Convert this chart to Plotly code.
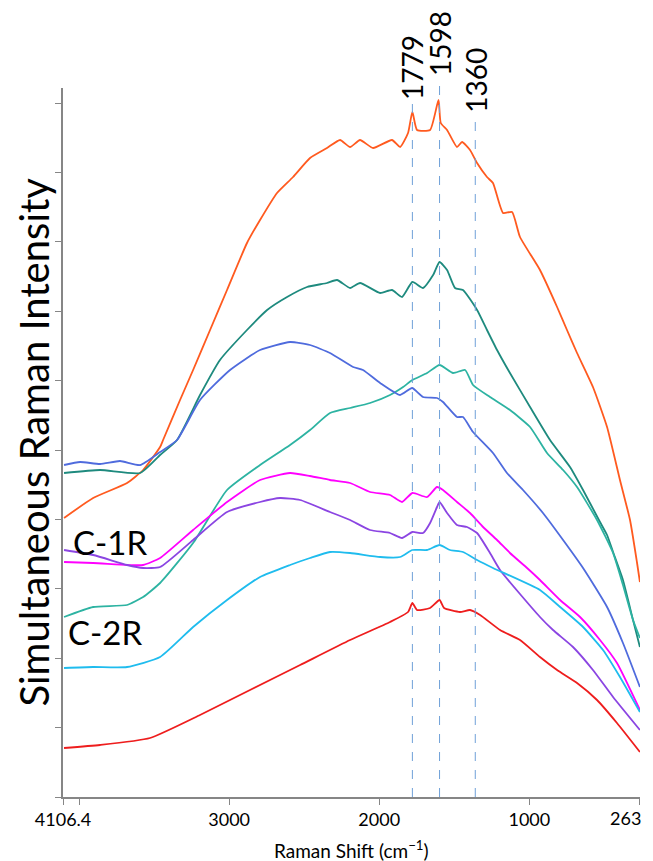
import plotly.graph_objects as go

# Raman shift (cm^-1) and intensity (a.u.) for each spectrum
orange_wn = [4100, 3906, 3680, 3573, 3460, 3440, 3327, 3240, 3127, 3014, 2881, 2794, 2681, 2574, 2461, 2348, 2261, 2194, 2128, 2041, 1915, 1861, 1808, 1779, 1748, 1661, 1605, 1590, 1548, 1482, 1448, 1395, 1348, 1282, 1242, 1175, 1115, 1062, 929, 815, 749, 682, 576, 482, 396, 329, 283, 263]
orange_int = [279, 299, 314, 327, 350, 357, 397, 427, 467, 507, 554, 577, 604, 620, 639, 649, 657, 650, 657, 649, 657, 650, 664, 685, 667, 667, 697, 674, 667, 650, 655, 647, 634, 620, 614, 584, 585, 560, 527, 490, 467, 444, 410, 370, 317, 277, 235, 215]

dteal_wn = [4100, 3860, 3593, 3460, 3347, 3194, 3061, 2881, 2747, 2614, 2481, 2348, 2281, 2194, 2128, 1994, 1915, 1848, 1779, 1708, 1641, 1598, 1548, 1495, 1442, 1348, 1282, 1215, 1129, 995, 862, 729, 642, 596, 529, 482, 442, 376, 309, 263]
dteal_int = [324, 327, 324, 342, 357, 402, 437, 467, 487, 500, 510, 514, 517, 509, 514, 504, 507, 500, 515, 509, 522, 535, 527, 509, 507, 487, 467, 447, 424, 390, 357, 330, 307, 294, 275, 262, 245, 217, 177, 150]

lteal_wn = [4100, 3906, 3680, 3573, 3460, 3240, 3014, 2794, 2594, 2461, 2328, 2194, 2061, 1928, 1841, 1779, 1681, 1598, 1508, 1428, 1375, 1262, 1129, 995, 882, 775, 682, 549, 442, 376, 309, 263]
lteal_int = [180, 190, 192, 200, 214, 254, 307, 332, 352, 367, 384, 389, 394, 402, 410, 417, 424, 432, 424, 427, 412, 400, 387, 370, 344, 327, 310, 277, 244, 212, 177, 159]

blue_wn = [4100, 3993, 3860, 3727, 3593, 3460, 3347, 3194, 2994, 2794, 2594, 2461, 2328, 2174, 2108, 1994, 1861, 1781, 1708, 1615, 1575, 1482, 1442, 1375, 1242, 1149, 1042, 909, 775, 642, 482, 376, 263]
blue_int = [332, 335, 333, 336, 332, 345, 357, 397, 427, 447, 455, 452, 444, 430, 427, 414, 402, 409, 400, 399, 395, 380, 380, 365, 344, 324, 307, 284, 257, 229, 190, 154, 110]

magenta_wn = [4100, 3906, 3680, 3573, 3460, 3240, 3014, 2794, 2594, 2461, 2328, 2194, 2061, 1928, 1848, 1779, 1681, 1615, 1575, 1482, 1395, 1308, 1215, 1129, 1015, 929, 795, 662, 529, 416, 263]
magenta_int = [235, 234, 232, 232, 239, 267, 295, 317, 324, 321, 317, 314, 305, 302, 295, 304, 300, 310, 307, 295, 284, 270, 257, 244, 229, 217, 197, 180, 157, 134, 87]

purple_wn = [4100, 3906, 3680, 3573, 3460, 3240, 3014, 2794, 2661, 2527, 2328, 2194, 2061, 1928, 1848, 1779, 1708, 1661, 1615, 1598, 1548, 1482, 1415, 1348, 1262, 1195, 929, 842, 709, 576, 442, 263]
purple_int = [247, 242, 232, 229, 230, 257, 285, 295, 299, 297, 285, 277, 267, 264, 259, 265, 264, 274, 290, 295, 284, 272, 270, 264, 244, 227, 180, 167, 150, 127, 100, 67]

cyan_wn = [4100, 3906, 3680, 3460, 3240, 3014, 2794, 2594, 2461, 2328, 2194, 1994, 1861, 1779, 1681, 1598, 1528, 1442, 1348, 1242, 929, 795, 642, 509, 396, 263]
cyan_int = [129, 130, 130, 140, 170, 197, 220, 232, 239, 245, 244, 240, 240, 247, 247, 252, 247, 245, 237, 229, 207, 190, 170, 147, 120, 85]

red_wn = [4100, 3860, 3527, 3194, 2861, 2527, 2194, 1928, 1808, 1779, 1748, 1661, 1598, 1568, 1462, 1395, 1328, 1195, 1062, 929, 815, 682, 549, 416, 263]
red_int = [49, 52, 59, 82, 107, 132, 157, 175, 185, 194, 187, 189, 197, 189, 185, 187, 182, 167, 157, 140, 127, 114, 97, 74, 45]

series = [
    (orange_wn, orange_int, "#FF5A1F"),
    (dteal_wn, dteal_int, "#1E8A7E"),
    (lteal_wn, lteal_int, "#2DB3A2"),
    (blue_wn, blue_int, "#4F6BDD"),
    (magenta_wn, magenta_int, "#FF00FF"),
    (purple_wn, purple_int, "#8B45E2"),
    (cyan_wn, cyan_int, "#1FBCEE"),
    (red_wn, red_int, "#EE1D1D"),
]

peak_positions = [1779, 1598, 1360]
peak_labels = ["1779", "1598", "1360"]
peak_tops = [695, 719, 682]

sample_labels = ["C-1R", "C-2R"]
sample_label_wn = [3793, 3826]
sample_label_int = [255, 165]

x_min, x_max = 4106.4, 263
y_max = 709
x_tickvals = [4106.4, 4000, 3000, 2000, 1000, 263]
x_ticktext = ["4106.4", "", "3000", "2000", "1000", ""]
end_label = "263"

fig = go.Figure()
for wn, inten, col in series:
    fig.add_trace(go.Scatter(x=wn, y=inten, mode="lines",
                             line=dict(color=col, width=1.8, shape="spline", smoothing=0.5),
                             showlegend=False, hoverinfo="skip"))

for pos, lab, top in zip(peak_positions, peak_labels, peak_tops):
    fig.add_shape(type="line", x0=pos, x1=pos, y0=0, y1=top / y_max, xref="x", yref="paper",
                  line=dict(color="#6FA0D8", width=1, dash="dash"))
    fig.add_annotation(x=pos, y=top / y_max, xref="x", yref="paper", text=lab, showarrow=False,
                       textangle=-90, xanchor="center", yanchor="bottom",
                       font=dict(family="Lato", size=28, color="black"))

for lab, wn, inten in zip(sample_labels, sample_label_wn, sample_label_int):
    fig.add_annotation(x=wn, y=inten, xref="x", yref="y", text=lab, showarrow=False,
                       xanchor="center", yanchor="middle",
                       font=dict(family="Lato", size=33, color="black"))

fig.add_annotation(x=x_max, y=0, xref="x", yref="paper", text=end_label, showarrow=False,
                   xanchor="right", yanchor="top", yshift=-8, xshift=3,
                   font=dict(family="Lato", size=18, color="black"))

fig.add_annotation(x=0.5, y=0, xref="paper", yref="paper", yshift=-52,
                   text="Raman Shift (cm<sup>−1</sup>)", showarrow=False,
                   xanchor="center", yanchor="middle",
                   font=dict(family="Lato", size=19, color="black"))

fig.add_annotation(x=0, y=0.5, xref="paper", yref="paper", xshift=-30,
                   text="Simultaneous Raman Intensity", showarrow=False, textangle=-90,
                   xanchor="center", yanchor="middle",
                   font=dict(family="Lato", size=40, color="black"))

fig.update_layout(
    width=653, height=861,
    margin=dict(l=63, r=13, t=88, b=64),
    paper_bgcolor="white", plot_bgcolor="white",
    font=dict(family="Lato", color="black"),
    xaxis=dict(range=[x_min + 0.5, x_max - 0.5], tickvals=x_tickvals, ticktext=x_ticktext,
               tickangle=0, ticks="outside", ticklen=6, tickcolor="#868686", showgrid=False,
               zeroline=False, showline=True, linecolor="#868686", linewidth=1.5,
               tickfont=dict(size=18, family="Lato", color="black"), automargin=False),
    yaxis=dict(range=[0, y_max], tick0=0, dtick=69.4, ticks="outside", ticklen=6,
               tickcolor="#868686", showticklabels=False, showgrid=False, zeroline=False,
               showline=True, linecolor="#868686", linewidth=1.5, automargin=False),
)

fig.write_html("out.html", config={"displayModeBar": False},
               post_script="document.body.style.margin='0';document.body.style.overflow='hidden';")
